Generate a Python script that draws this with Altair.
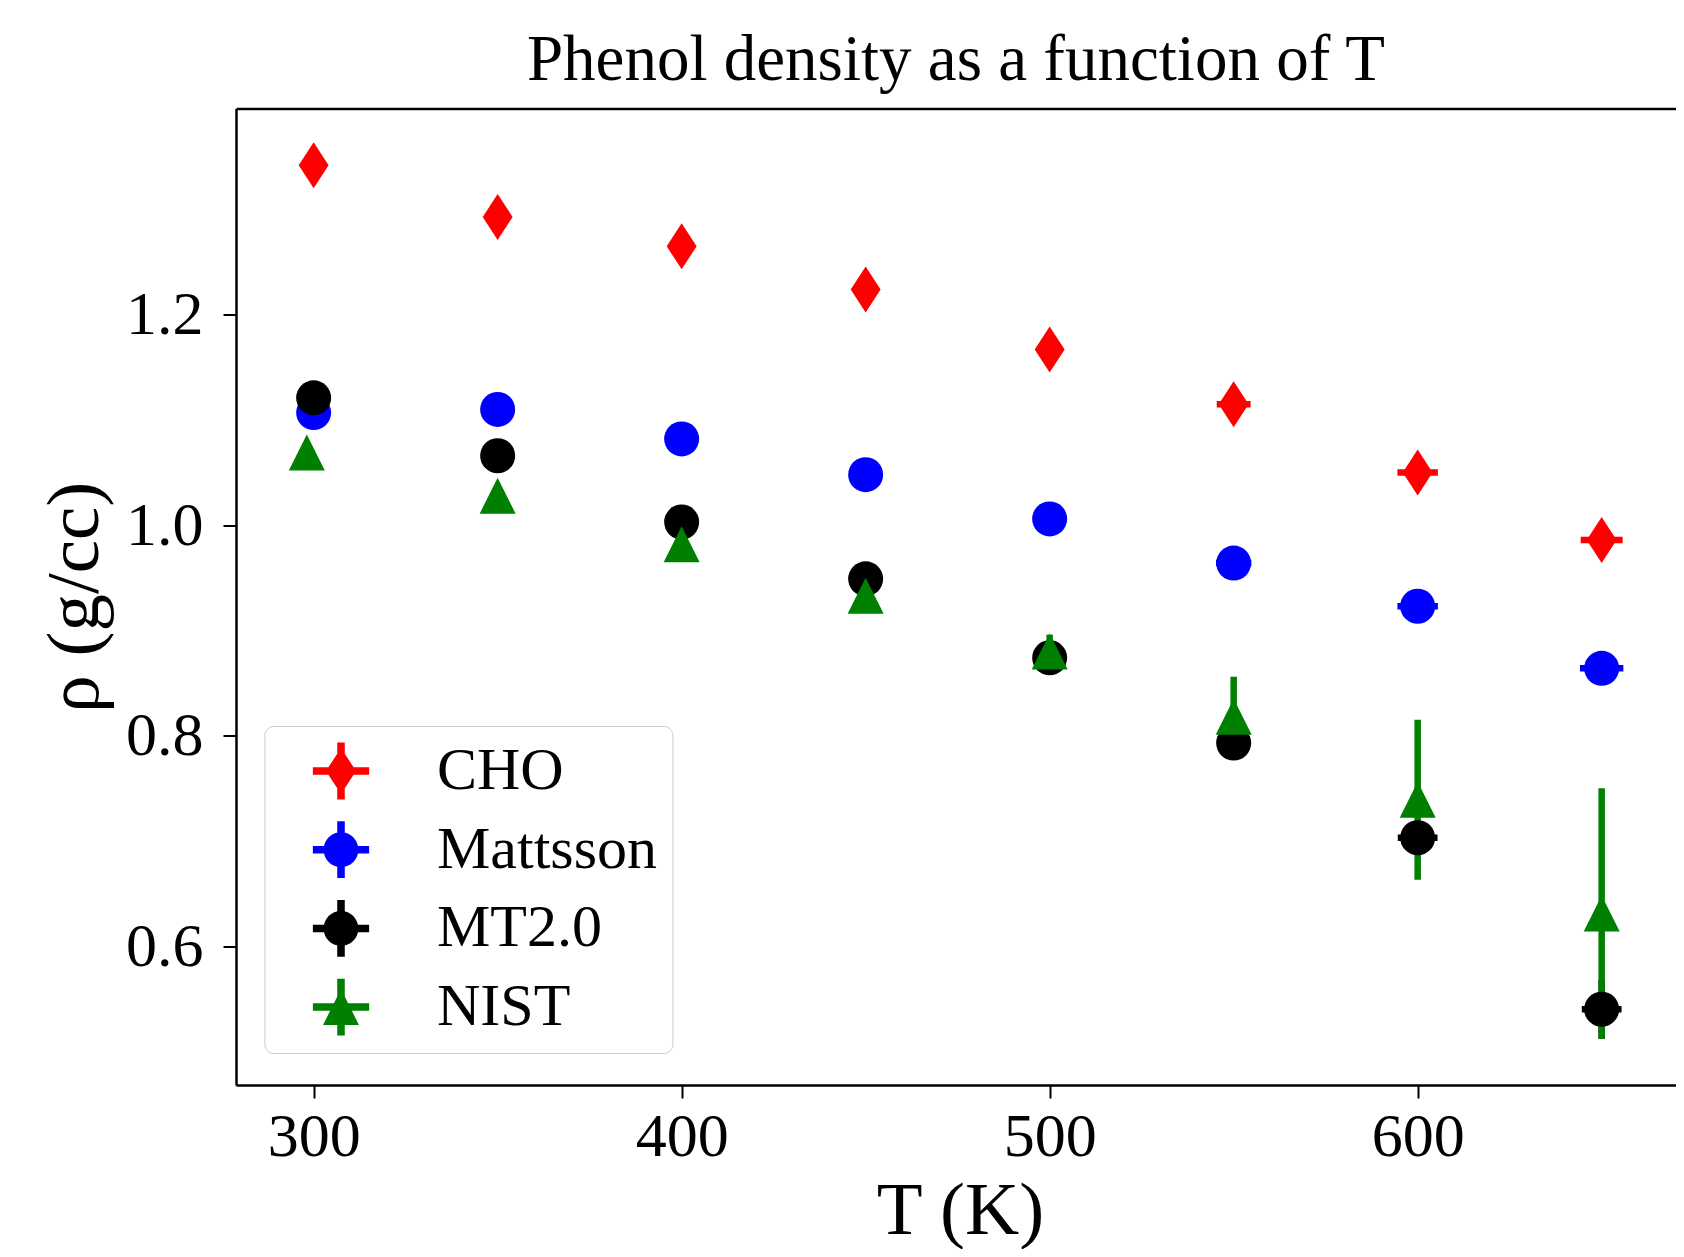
import altair as alt
import pandas as pd

# ---------------- data ----------------
series = ["CHO", "Mattsson", "MT2.0", "NIST"]
colors = ["#ff0000", "#0000ff", "#000000", "#008000"]

temps = [300, 350, 400, 450, 500, 550, 600, 650]
nist_temps = [298.15, 350, 400, 450, 500, 550, 600, 650]

cho_rho = [1.342, 1.293, 1.265, 1.224, 1.167, 1.115, 1.050, 0.986]
cho_yerr = [0.004, 0.004, 0.004, 0.005, 0.005, 0.006, 0.007, 0.008]
cho_xerr = [3.0, 3.0, 3.0, 3.0, 3.5, 4.6, 5.5, 5.7]

mat_rho = [1.107, 1.110, 1.082, 1.048, 1.006, 0.964, 0.923, 0.864]
mat_yerr = [0.003, 0.003, 0.004, 0.004, 0.005, 0.005, 0.006, 0.007]
mat_xerr = [3.0, 3.0, 3.0, 3.0, 3.5, 4.8, 5.5, 5.9]

mt_rho = [1.121, 1.066, 1.003, 0.949, 0.874, 0.793, 0.703, 0.540]
mt_yerr = [0.003, 0.004, 0.005, 0.006, 0.008, 0.010, 0.015, 0.028]
mt_xerr = [3.0, 3.0, 3.0, 3.0, 3.5, 4.4, 5.4, 5.4]

nist_rho = [1.069, 1.028, 0.982, 0.933, 0.880, 0.818, 0.739, 0.631]
nist_yerr = [0.002, 0.003, 0.005, 0.008, 0.016, 0.038, 0.076, 0.119]
nist_xerr = [2.0, 2.0, 2.0, 2.0, 2.0, 2.0, 2.0, 2.0]

y_ticks = [0.6, 0.8, 1.0, 1.2]
x_ticks = [300, 400, 500, 600]

# marker shapes (unit box paths) for the plot and for the legend (errorbar handles)
point_shapes = ["M0,-1L0.65,0L0,1L-0.65,0Z", "circle", "circle", "M0,-1L1,1L-1,1Z"]
point_sizes = [2116, 1225, 1225, 1296]

bars = "M-0.97,-0.13L0.97,-0.13L0.97,0.13L-0.97,0.13Z M-0.13,-0.98L0.13,-0.98L0.13,0.98L-0.13,0.98Z"
legend_paths = [
    "M0,-0.79L0.52,0L0,0.79L-0.52,0Z " + bars,
    "M-0.6,0A0.6,0.6 0 1,1 0.6,0A0.6,0.6 0 1,1 -0.6,0Z " + bars,
    "M-0.6,0A0.6,0.6 0 1,1 0.6,0A0.6,0.6 0 1,1 -0.6,0Z " + bars,
    "M0,-0.62L0.62,0.62L-0.62,0.62Z " + bars,
]

# ---------------- table ----------------
rows = []
for s, ts, rh, ye, xe in [
    ("CHO", temps, cho_rho, cho_yerr, cho_xerr),
    ("Mattsson", temps, mat_rho, mat_yerr, mat_xerr),
    ("MT2.0", temps, mt_rho, mt_yerr, mt_xerr),
    ("NIST", nist_temps, nist_rho, nist_yerr, nist_xerr),
]:
    for t, r, a, b in zip(ts, rh, ye, xe):
        rows.append(dict(series=s, T=t, rho=r, lo=r - a, hi=r + a, xlo=t - b, xhi=t + b))
df = pd.DataFrame(rows)

FONT = "Liberation Serif"
W, H = 1440, 976.5

xscale = alt.Scale(domain=[278.9, 670.2], nice=False, zero=False)
yscale = alt.Scale(domain=[0.468, 1.396], nice=False, zero=False)

yaxis = alt.Axis(
    values=y_ticks, format=".1f", grid=False,
    labelFont=FONT, labelFontSize=62, labelColor="black", labelPadding=20,
    tickSize=13, tickWidth=2, tickColor="black",
    domainColor="black", domainWidth=2.5,
    title="ρ (g/cc)", titleFont=FONT, titleFontSize=75, titleFontWeight="normal",
    titleColor="black", titleAngle=270, titleBaseline="alphabetic", titleAlign="center",
    titleX=-139, titleY=H / 2,
)
bottom_axis = alt.Axis(
    values=x_ticks, format="d", grid=False,
    labelFont=FONT, labelFontSize=62, labelColor="black", labelPadding=8,
    tickSize=13, tickWidth=2, tickColor="black",
    domainColor="black", domainWidth=2.5,
    title="T (K)", titleFont=FONT, titleFontSize=75, titleFontWeight="normal",
    titleColor="black", titleBaseline="alphabetic", titleAlign="center",
    titleX=724, titleY=148,
)
top_axis = alt.Axis(
    orient="top", labels=False, ticks=False, grid=False, title=None,
    domainColor="black", domainWidth=2.5,
)

base = alt.Chart(df)
layers = []

# error bars (drawn beneath all markers)
for s, c in zip(series, colors):
    sub = base.transform_filter(alt.datum.series == s)
    layers.append(
        sub.mark_rule(strokeWidth=6.5, color=c).encode(
            x=alt.X("xlo:Q", scale=xscale, axis=None),
            x2="xhi:Q",
            y=alt.Y("rho:Q", scale=yscale, axis=yaxis),
        )
    )
    layers.append(
        sub.mark_rule(strokeWidth=6.5, color=c).encode(
            x=alt.X("T:Q", scale=xscale, axis=None),
            y=alt.Y("lo:Q", scale=yscale, axis=yaxis),
            y2="hi:Q",
        )
    )

# markers
for i, (s, c, shp, sz) in enumerate(zip(series, colors, point_shapes, point_sizes)):
    sub = base.transform_filter(alt.datum.series == s)
    layers.append(
        sub.mark_point(filled=True, opacity=1, shape=shp, size=sz, color=c, strokeWidth=0).encode(
            x=alt.X("T:Q", scale=xscale, axis=bottom_axis if i == 0 else None),
            y=alt.Y("rho:Q", scale=yscale, axis=yaxis),
        )
    )

# legend-only layer (no visible marks)
leg = alt.Legend(
    title=None, orient="none", legendX=28.4, legendY=617.5,
    fillColor="white", strokeColor="#cccccc", cornerRadius=9,
    padding=15, symbolOffset=31.6, symbolSize=3364, symbolStrokeWidth=0,
    labelFont=FONT, labelFontSize=60, labelColor="black", labelOffset=66,
    labelLimit=400, rowPadding=18.7, labelBaseline="middle",
)
layers.append(
    base.transform_filter("false").mark_point(filled=True, opacity=1, size=3364).encode(
        x=alt.X("T:Q", scale=xscale, axis=top_axis),
        y=alt.Y("rho:Q", scale=yscale, axis=yaxis),
        color=alt.Color("series:N", scale=alt.Scale(domain=series, range=colors), legend=leg),
        shape=alt.Shape("series:N", scale=alt.Scale(domain=series, range=legend_paths), legend=leg),
    )
)

chart = (
    alt.layer(*layers)
    .resolve_axis(x="independent")
    .properties(
        width=W,
        height=H,
        title=alt.TitleParams(
            text="Phenol density as a function of T", font=FONT, fontSize=65,
            fontWeight="normal", color="black", anchor="middle", frame="group",
            baseline="alphabetic", offset=24, dy=60,
        ),
        autosize=alt.AutoSizeParams(type="none"),
        padding={"left": 228, "top": 100.5, "right": 0, "bottom": 164},
    )
    .configure_view(stroke=None)
    .configure_legend(strokeWidth=2.5)
    .configure(background="white")
)

chart.save("out.html", embed_options={"renderer": "svg", "actions": False})
